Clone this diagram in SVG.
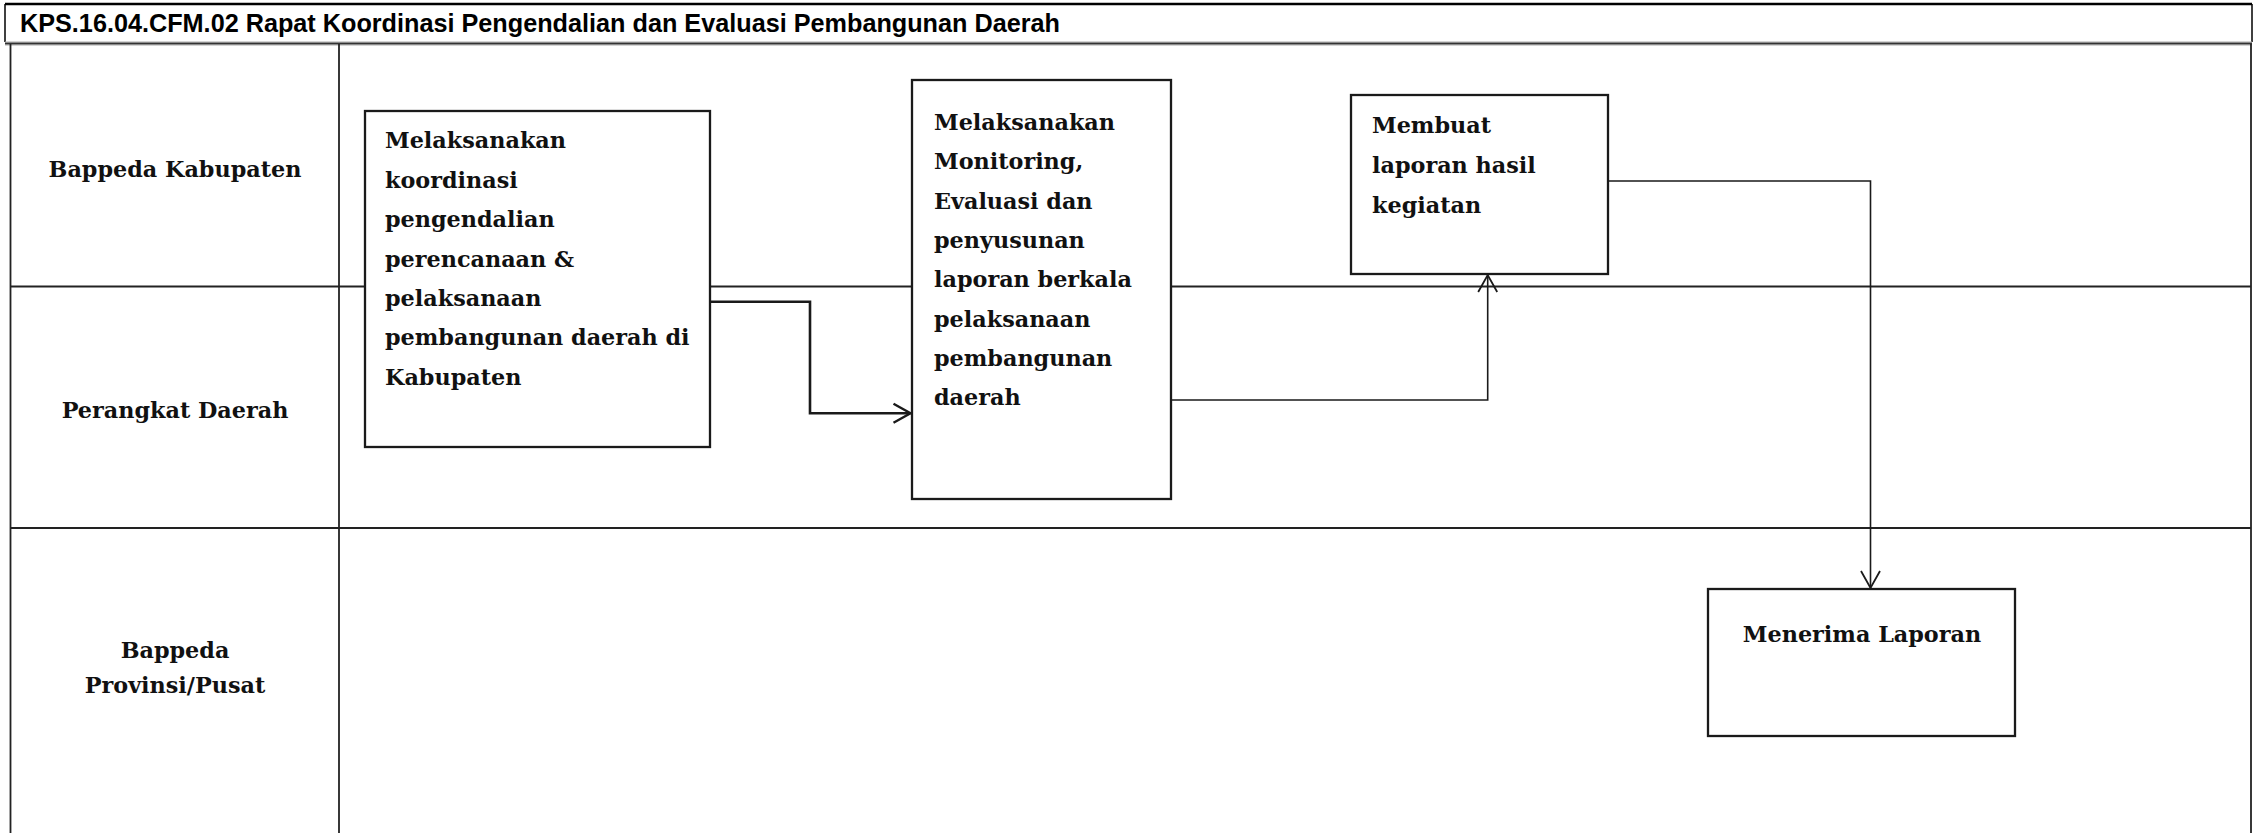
<svg xmlns="http://www.w3.org/2000/svg" width="2254" height="833" viewBox="0 0 2254 833">
<style>
.lane{stroke:#222;stroke-width:1.8;fill:none}
.box{fill:#fff;stroke:#1a1a1a;stroke-width:2.3}
.lbl{font-family:"DejaVu Serif","Liberation Serif",serif;font-weight:bold;font-size:22.3px;fill:#111}
.ttl{font-family:"Liberation Sans",Arial,sans-serif;font-weight:bold;font-size:25px;fill:#000}
.conn{fill:none;stroke:#1a1a1a;stroke-width:1.6}
.conn.thick{stroke-width:2.6}
</style>
<defs>
<marker id="arr" markerUnits="userSpaceOnUse" markerWidth="24" markerHeight="24" viewBox="-20 -12 24 24" refX="0" refY="0" orient="auto">
<path d="M-17,-9.5 L0,0 L-17,9.5" fill="none" stroke="#1a1a1a" stroke-width="1.8"/>
</marker>
<marker id="arrT" markerUnits="userSpaceOnUse" markerWidth="24" markerHeight="24" viewBox="-20 -12 24 24" refX="0" refY="0" orient="auto">
<path d="M-17,-9.5 L0,0 L-17,9.5" fill="none" stroke="#1a1a1a" stroke-width="2.4"/>
</marker>
</defs>
<rect width="2254" height="833" fill="#fff"/>
<g id="title">
<line x1="5" y1="4" x2="2252" y2="4" stroke="#000" stroke-width="2.5"/>
<line x1="5" y1="4" x2="5" y2="42" stroke="#000" stroke-width="1.5"/>
<line x1="2252" y1="4" x2="2252" y2="42" stroke="#000" stroke-width="1.5"/>
<text class="ttl" x="20" y="32" textLength="1040" lengthAdjust="spacingAndGlyphs">KPS.16.04.CFM.02 Rapat Koordinasi Pengendalian dan Evaluasi Pembangunan Daerah</text>
</g>
<g id="lanes">
<line x1="5" y1="43.5" x2="2252" y2="43.5" stroke="#aaa" stroke-width="4"/>
<line x1="5" y1="43.5" x2="2252" y2="43.5" stroke="#333" stroke-width="1.6"/>
<line class="lane" x1="10.5" y1="44" x2="10.5" y2="833"/>
<line class="lane" x1="339" y1="44" x2="339" y2="833"/>
<line class="lane" x1="2251" y1="44" x2="2251" y2="833"/>
<line class="lane" x1="10.5" y1="286.5" x2="2251" y2="286.5"/>
<line class="lane" x1="10.5" y1="528" x2="2251" y2="528"/>
<text class="lbl" x="175" y="177" text-anchor="middle">Bappeda Kabupaten</text>
<text class="lbl" x="175" y="418" text-anchor="middle">Perangkat Daerah</text>
<text class="lbl" x="175" y="658" text-anchor="middle">Bappeda</text>
<text class="lbl" x="175" y="693" text-anchor="middle">Provinsi/Pusat</text>
</g>
<g id="node1">
<rect class="box" x="365" y="111" width="345" height="336"/>
<text class="lbl" x="385" y="148.3">Melaksanakan</text>
<text class="lbl" x="385" y="187.7">koordinasi</text>
<text class="lbl" x="385" y="227.1">pengendalian</text>
<text class="lbl" x="385" y="266.5">perencanaan &amp;</text>
<text class="lbl" x="385" y="305.9">pelaksanaan</text>
<text class="lbl" x="385" y="345.3">pembangunan daerah di</text>
<text class="lbl" x="385" y="384.7">Kabupaten</text>
</g>
<g id="node2">
<rect class="box" x="912" y="80" width="259" height="419"/>
<text class="lbl" x="934" y="130">Melaksanakan</text>
<text class="lbl" x="934" y="169.3">Monitoring,</text>
<text class="lbl" x="934" y="208.6">Evaluasi dan</text>
<text class="lbl" x="934" y="247.9">penyusunan</text>
<text class="lbl" x="934" y="287.2">laporan berkala</text>
<text class="lbl" x="934" y="326.5">pelaksanaan</text>
<text class="lbl" x="934" y="365.8">pembangunan</text>
<text class="lbl" x="934" y="405.1">daerah</text>
</g>
<g id="node3">
<rect class="box" x="1351" y="95" width="257" height="179"/>
<text class="lbl" x="1372" y="133.3">Membuat</text>
<text class="lbl" x="1372" y="173">laporan hasil</text>
<text class="lbl" x="1372" y="212.7">kegiatan</text>
</g>
<g id="node4">
<rect class="box" x="1708" y="589" width="307" height="147"/>
<text class="lbl" x="1862" y="642" text-anchor="middle">Menerima Laporan</text>
</g>
<g id="connectors">
<path class="conn thick" d="M710,301.7 H810 V413.3 H910.5" marker-end="url(#arrT)"/>
<path class="conn" d="M1171,400 H1487.7 V275" marker-end="url(#arr)"/>
<path class="conn" d="M1608,181 H1870.5 V588" marker-end="url(#arr)"/>
</g>
</svg>
